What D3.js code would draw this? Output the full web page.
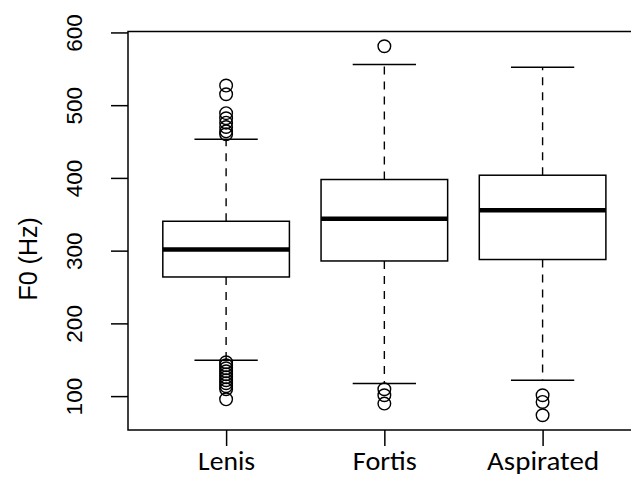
<!DOCTYPE html>
<html>
<head>
<meta charset="utf-8">
<script src="https://cdn.jsdelivr.net/npm/d3@7/dist/d3.min.js"></script>
<style>
  html, body { margin: 0; padding: 0; background: #fff; overflow: hidden; }
  svg { display: block; }
</style>
</head>
<body>
<svg id="chart" width="631" height="477"></svg>
<script>
// F0 distributions per stop category (Hz)
const categories = ["Lenis", "Fortis", "Aspirated"];
const q1 = [263.8, 285.8, 287.8];
const medians = [301.5, 344.0, 355.6];
const q3 = [340.4, 397.8, 403.7];
const whiskerLow = [149.3, 117.2, 121.7];
const whiskerHigh = [453.0, 556.0, 552.3];
const outliersLenis = [527, 515, 489, 482, 476, 470, 464, 460,
                       146.5, 142.4, 138.3, 134.2, 130, 125.9, 121.8, 117.7, 113.6, 109.4, 95.6];
const outliersFortis = [581, 109.4, 101.2, 89.7];
const outliersAspirated = [101.2, 92.0, 73.7];
const outliers = [outliersLenis, outliersFortis, outliersAspirated];
const yTicks = [100, 200, 300, 400, 500, 600];
const yTitle = "F0 (Hz)";
const labelWidths = [57, 64, 112];

const svg = d3.select("#chart");
const plot = { left: 128, right: 640.7, top: 31.5, bottom: 430 };

// data extent padded by 4% on both sides
const allVals = [].concat(whiskerLow, whiskerHigh, ...outliers);
const lo = d3.min(allVals), hi = d3.max(allVals);
const pad = (hi - lo) * 0.04;

const y = d3.scaleLinear().domain([lo - pad, hi + pad]).range([plot.bottom, plot.top]);
const x = d3.scaleLinear().domain([0.38, 3.62]).range([plot.left, plot.right]);

const boxW = 0.8, capW = 0.4;
const ink = "#000";

// boxes
const g = svg.append("g");
categories.forEach((c, i) => {
  const cx = x(i + 1);
  const half = (x(1 + boxW / 2) - x(1));
  const capHalf = (x(1 + capW / 2) - x(1));

  // whiskers (dashed)
  g.append("line").attr("x1", cx).attr("x2", cx)
    .attr("y1", y(q3[i])).attr("y2", y(whiskerHigh[i]))
    .attr("stroke", ink).attr("stroke-width", 1.4).attr("stroke-dasharray", "8,7");
  g.append("line").attr("x1", cx).attr("x2", cx)
    .attr("y1", y(q1[i])).attr("y2", y(whiskerLow[i]))
    .attr("stroke", ink).attr("stroke-width", 1.4).attr("stroke-dasharray", "8,7");

  // staples
  [whiskerHigh[i], whiskerLow[i]].forEach(v => {
    g.append("line").attr("x1", cx - capHalf).attr("x2", cx + capHalf)
      .attr("y1", y(v)).attr("y2", y(v))
      .attr("stroke", ink).attr("stroke-width", 1.5);
  });

  // box
  g.append("rect")
    .attr("x", cx - half).attr("width", 2 * half)
    .attr("y", y(q3[i])).attr("height", y(q1[i]) - y(q3[i]))
    .attr("fill", "#fff").attr("stroke", ink).attr("stroke-width", 1.5);

  // median
  g.append("line").attr("x1", cx - half).attr("x2", cx + half)
    .attr("y1", y(medians[i])).attr("y2", y(medians[i]))
    .attr("stroke", ink).attr("stroke-width", 4.5);

  // outliers
  g.selectAll(null).data(outliers[i]).enter().append("circle")
    .attr("cx", cx).attr("cy", d => y(d)).attr("r", 6.3)
    .attr("fill", "none").attr("stroke", ink).attr("stroke-width", 1.4);
});

// frame
svg.append("rect")
  .attr("x", plot.left).attr("y", plot.top)
  .attr("width", plot.right - plot.left).attr("height", plot.bottom - plot.top)
  .attr("fill", "none").attr("stroke", ink).attr("stroke-width", 1.5);

// y axis
const yAxis = svg.append("g").attr("transform", `translate(${plot.left},0)`)
  .call(d3.axisLeft(y).tickValues(yTicks).tickSize(17).tickFormat(d3.format("d")));
yAxis.select(".domain").remove();
yAxis.selectAll(".tick line").attr("stroke", ink).attr("stroke-width", 1.5);
yAxis.selectAll(".tick text").remove();
yAxis.selectAll(".tick").append("text")
  .attr("transform", "translate(-46.5,0) rotate(-90)")
  .attr("text-anchor", "middle")
  .attr("font-family", "Liberation Sans, Arial, sans-serif")
  .attr("font-size", 22.5)
  .attr("fill", ink)
  .text(d => d);

// x axis
const xAxis = svg.append("g").attr("transform", `translate(0,${plot.bottom})`)
  .call(d3.axisBottom(x).tickValues([1, 2, 3]).tickSize(16).tickFormat(d => categories[d - 1]));
xAxis.select(".domain").remove();
xAxis.selectAll(".tick line").attr("stroke", ink).attr("stroke-width", 1.5);
xAxis.selectAll(".tick text")
  .attr("y", 40).attr("dy", 0)
  .attr("font-family", "Carlito, Lato, 'Open Sans', sans-serif")
  .attr("font-size", 26)
  .attr("fill", ink)
  .attr("textLength", d => labelWidths[d - 1])
  .attr("lengthAdjust", "spacingAndGlyphs");

// y title
svg.append("text")
  .attr("transform", `translate(36.5,${y(400) + 81}) rotate(-90)`)
  .attr("text-anchor", "middle")
  .attr("font-family", "Liberation Sans, Arial, sans-serif")
  .attr("font-size", 25)
  .attr("fill", ink)
  .text(yTitle);
</script>
</body>
</html>
